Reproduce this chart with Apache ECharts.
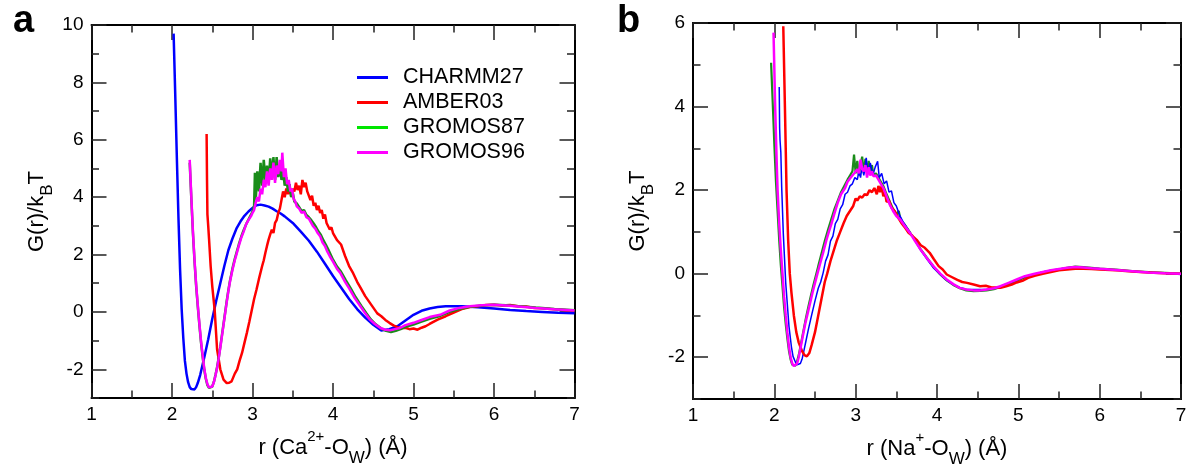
<!DOCTYPE html>
<html>
<head>
<meta charset="utf-8">
<title>G(r)/kBT Ca2+ and Na+</title>
<script src="https://cdn.jsdelivr.net/npm/echarts@6/dist/echarts.min.js"></script>
<style>
  html, body { margin: 0; padding: 0; background: #fff; }
  #main { width: 1188px; height: 468px; }
</style>
</head>
<body>
<div id="main"></div>
<script>
// ---- panel a: Ca2+ - Ow ----
var aCharmmX = [2.02,2.04,2.06,2.08,2.10,2.12,2.14,2.16,2.18,2.20,
  2.22,2.24,2.26,2.28,2.30,2.32,2.35,2.40,2.45,2.50,
  2.55,2.60,2.65,2.70,2.75,2.80,2.85,2.90,2.95,3.00,
  3.05,3.10,3.15,3.20,3.25,3.30,3.35,3.40,3.50,3.60,
  3.70,3.80,3.90,4.00,4.10,4.20,4.30,4.40,4.50,4.60,
  4.70,4.80,4.90,5.00,5.10,5.20,5.30,5.40,5.60,5.80,
  6.00,6.20,6.40,6.60,6.80,7.00];
var aCharmmY = [9.70,7.60,5.40,3.30,1.50,0.10,-0.90,-1.70,-2.15,-2.45,
  -2.62,-2.69,-2.71,-2.70,-2.62,-2.48,-2.20,-1.60,-0.95,-0.25,
  0.40,1.00,1.60,2.15,2.55,2.90,3.15,3.35,3.50,3.62,
  3.72,3.74,3.71,3.67,3.60,3.51,3.43,3.33,3.10,2.80,
  2.48,2.10,1.68,1.25,0.85,0.45,0.10,-0.20,-0.45,-0.65,
  -0.60,-0.50,-0.30,-0.10,0.04,0.12,0.17,0.20,0.20,0.16,
  0.12,0.07,0.03,0.00,-0.03,-0.05];

var aAmberX = [2.43,2.435,2.44,2.45,2.46,2.48,2.50,2.53,2.56,2.60,
  2.64,2.68,2.71,2.74,2.78,2.81,2.84,2.87,2.90,2.93,
  2.96,2.99,3.02,3.05,3.08,3.12,3.14,3.16,3.18,3.20,
  3.22,3.24,3.26,3.28,3.30,3.32,3.34,3.36,3.38,3.40,
  3.42,3.44,3.46,3.48,3.50,3.52,3.54,3.56,3.58,3.60,
  3.62,3.64,3.66,3.68,3.70,3.72,3.74,3.76,3.78,3.80,
  3.82,3.84,3.86,3.88,3.90,3.92,3.94,3.96,3.98,4.00,
  4.05,4.10,4.15,4.20,4.25,4.30,4.35,4.40,4.45,4.50,
  4.55,4.60,4.65,4.70,4.75,4.80,4.85,4.90,4.95,5.00,
  5.05,5.10,5.15,5.20,5.30,5.40,5.50,5.60,5.70,5.80,
  5.90,6.00,6.10,6.20,6.30,6.40,6.50,6.60,6.70,6.80,
  6.90,7.00];
var aAmberY = [6.20,4.60,3.40,3.00,2.55,1.60,0.90,0.07,-1.30,-2.00,
  -2.36,-2.48,-2.47,-2.42,-2.15,-2.00,-1.70,-1.43,-1.08,-0.73,
  -0.35,0.05,0.45,0.78,1.15,1.60,1.80,2.06,2.30,2.52,
  2.70,2.87,2.75,3.10,3.20,3.45,3.60,3.90,4.20,4.00,
  4.30,4.10,4.35,4.05,4.30,4.20,4.50,4.25,4.40,4.10,
  4.60,4.35,4.50,4.20,4.15,3.90,4.05,3.70,3.80,3.55,
  3.70,3.45,3.55,3.25,3.40,3.10,3.15,2.87,2.95,2.75,
  2.50,2.35,1.95,1.60,1.35,1.05,0.80,0.55,0.35,0.15,
  -0.05,-0.15,-0.28,-0.38,-0.47,-0.53,-0.56,-0.55,-0.60,-0.58,
  -0.62,-0.55,-0.50,-0.42,-0.27,-0.15,-0.02,0.10,0.17,0.20,
  0.24,0.25,0.22,0.24,0.20,0.19,0.14,0.13,0.10,0.08,
  0.06,0.05];

var aG87X = [2.22,2.24,2.26,2.28,2.30,2.32,2.34,2.36,2.38,2.40,
  2.42,2.44,2.46,2.48,2.50,2.52,2.54,2.56,2.58,2.60,
  2.62,2.64,2.66,2.68,2.70,2.72,2.75,2.78,2.80,2.83,
  2.86,2.89,2.92,2.95,2.98,3.00,3.02,3.03,3.04,3.06,
  3.08,3.10,3.12,3.14,3.16,3.18,3.20,3.22,3.24,3.26,
  3.28,3.30,3.32,3.34,3.36,3.38,3.40,3.42,3.44,3.46,
  3.48,3.50,3.52,3.55,3.58,3.61,3.64,3.67,3.70,3.73,
  3.76,3.79,3.82,3.85,3.88,3.91,3.94,3.97,4.00,4.05,
  4.10,4.16,4.22,4.28,4.35,4.41,4.47,4.53,4.60,4.66,
  4.72,4.78,4.84,4.90,5.00,5.10,5.20,5.33,5.45,5.57,
  5.70,5.85,6.00,6.15,6.30,6.52,6.75,7.00];
var aG87Y = [5.20,3.95,2.75,1.75,0.90,0.20,-0.45,-1.05,-1.55,-2.00,
  -2.33,-2.55,-2.65,-2.66,-2.60,-2.44,-2.20,-1.93,-1.60,-1.22,
  -0.82,-0.42,-0.02,0.38,0.75,1.08,1.50,1.85,2.05,2.35,
  2.62,2.85,3.05,3.22,3.38,3.50,3.70,4.85,3.90,4.90,
  4.20,5.20,4.40,5.30,4.60,5.10,4.50,5.35,4.70,5.40,
  4.60,5.40,4.70,5.10,4.60,4.90,4.40,4.70,4.20,4.45,
  4.00,4.15,3.85,3.78,3.65,3.52,3.55,3.38,3.30,3.20,
  3.08,2.95,2.80,2.68,2.50,2.35,2.18,2.00,1.82,1.58,
  1.40,1.10,0.82,0.52,0.22,-0.03,-0.26,-0.43,-0.58,-0.66,
  -0.70,-0.66,-0.60,-0.52,-0.44,-0.34,-0.24,-0.14,0.00,0.10,
  0.18,0.22,0.25,0.23,0.20,0.15,0.10,0.06];

var aG96X = [2.22,2.24,2.26,2.28,2.30,2.32,2.34,2.36,2.38,2.40,
  2.42,2.44,2.46,2.48,2.50,2.52,2.54,2.56,2.58,2.60,
  2.62,2.64,2.66,2.68,2.70,2.72,2.75,2.78,2.80,2.83,
  2.86,2.89,2.92,2.95,2.98,3.00,3.02,3.04,3.06,3.08,
  3.10,3.12,3.14,3.16,3.18,3.20,3.22,3.24,3.26,3.28,
  3.30,3.32,3.34,3.36,3.37,3.39,3.41,3.43,3.45,3.47,
  3.49,3.51,3.53,3.55,3.58,3.61,3.64,3.67,3.70,3.72,
  3.75,3.78,3.81,3.84,3.87,3.90,3.93,3.96,4.00,4.05,
  4.09,4.15,4.21,4.27,4.34,4.40,4.46,4.52,4.59,4.65,
  4.71,4.77,4.83,4.90,5.00,5.10,5.20,5.33,5.45,5.57,
  5.70,5.85,6.00,6.15,6.30,6.52,6.75,7.00];
var aG96Y = [5.30,4.00,2.80,1.80,0.95,0.25,-0.40,-1.00,-1.50,-1.95,
  -2.30,-2.52,-2.63,-2.65,-2.60,-2.45,-2.22,-1.95,-1.62,-1.25,
  -0.85,-0.45,-0.05,0.35,0.72,1.05,1.45,1.80,2.00,2.30,
  2.58,2.80,3.05,3.20,3.33,3.45,3.55,3.80,4.00,3.85,
  4.30,4.10,4.60,4.35,4.90,4.40,5.00,4.60,5.20,4.50,
  5.10,4.80,5.30,4.90,5.55,4.70,5.00,4.45,4.60,4.20,
  4.30,3.95,3.85,3.68,3.60,3.45,3.50,3.30,3.25,3.22,
  3.00,2.90,2.75,2.64,2.42,2.30,2.10,1.94,1.75,1.50,
  1.36,1.05,0.78,0.48,0.20,-0.05,-0.27,-0.42,-0.56,-0.62,
  -0.64,-0.60,-0.56,-0.46,-0.38,-0.28,-0.18,-0.10,0.05,0.14,
  0.20,0.23,0.25,0.22,0.19,0.14,0.09,0.05];

// ---- panel b: Na+ - Ow ----
var bCharmmX = [2.06,2.065,2.07,2.08,2.09,2.11,2.14,2.18,2.21,2.23,
  2.26,2.28,2.30,2.32,2.34,2.36,2.39,2.42,2.46,2.50,
  2.54,2.57,2.60,2.63,2.66,2.69,2.72,2.75,2.78,2.81,
  2.84,2.87,2.90,2.93,2.96,2.99,3.02,3.04,3.06,3.08,
  3.10,3.13,3.15,3.18,3.21,3.24,3.27,3.29,3.32,3.35,
  3.38,3.41,3.44,3.47,3.50,3.54,3.58,3.63,3.68,3.74,
  3.80,3.88,3.96,4.04,4.12,4.20,4.28,4.36,4.45,4.53,
  4.61,4.70,4.78,4.88,4.98,5.08,5.20,5.30,5.40,5.50,
  5.60,5.70,5.80,5.90,6.00,6.20,6.40,6.60,6.80,7.00];
var bCharmmY = [4.47,3.50,3.20,2.90,2.10,0.97,-0.22,-1.26,-1.75,-1.98,
  -2.12,-2.18,-2.20,-2.15,-2.05,-1.88,-1.60,-1.32,-0.98,-0.65,
  -0.35,-0.20,0.02,0.30,0.45,0.78,0.90,1.20,1.30,1.55,
  1.65,1.90,1.95,2.10,2.15,2.30,2.25,2.45,2.30,2.60,
  2.35,2.77,2.40,2.65,2.35,2.55,2.69,2.30,2.40,2.15,
  2.22,1.95,1.98,1.70,1.62,1.40,1.25,1.10,0.95,0.76,
  0.56,0.34,0.13,-0.02,-0.16,-0.26,-0.33,-0.37,-0.38,-0.38,
  -0.37,-0.35,-0.30,-0.23,-0.15,-0.07,-0.01,0.04,0.08,0.11,
  0.14,0.16,0.15,0.13,0.12,0.09,0.06,0.03,0.01,-0.02];

var bAmberX = [2.11,2.13,2.15,2.17,2.19,2.21,2.24,2.27,2.30,2.34,
  2.37,2.40,2.43,2.46,2.50,2.54,2.58,2.62,2.65,2.69,
  2.73,2.77,2.81,2.85,2.89,2.93,2.97,3.00,3.02,3.05,
  3.08,3.11,3.14,3.17,3.20,3.23,3.26,3.28,3.30,3.32,
  3.34,3.36,3.38,3.41,3.44,3.48,3.52,3.56,3.60,3.65,
  3.70,3.75,3.80,3.85,3.91,3.96,4.02,4.07,4.12,4.18,
  4.25,4.31,4.37,4.45,4.53,4.60,4.67,4.73,4.78,4.85,
  4.92,4.98,5.05,5.12,5.20,5.30,5.40,5.50,5.60,5.70,
  5.80,5.90,6.00,6.20,6.40,6.60,6.80,7.00];
var bAmberY = [5.92,4.00,2.00,0.80,0.00,-0.45,-1.00,-1.40,-1.65,-1.85,
  -1.95,-1.98,-1.90,-1.70,-1.40,-1.00,-0.60,-0.20,0.00,0.30,
  0.55,0.80,1.00,1.20,1.38,1.50,1.62,1.80,1.75,1.85,
  1.82,1.90,1.88,2.00,1.95,2.05,1.90,2.10,1.95,2.10,
  1.85,1.95,1.72,1.75,1.58,1.50,1.35,1.22,1.12,0.98,
  0.90,0.81,0.68,0.62,0.50,0.35,0.18,0.10,-0.02,-0.08,
  -0.15,-0.20,-0.22,-0.26,-0.30,-0.29,-0.33,-0.33,-0.34,-0.30,
  -0.26,-0.21,-0.17,-0.10,-0.05,0.00,0.04,0.08,0.10,0.12,
  0.12,0.11,0.10,0.08,0.05,0.03,0.01,0.00];

var bG87X = [1.96,1.98,2.00,2.02,2.04,2.06,2.08,2.10,2.12,2.14,
  2.16,2.18,2.20,2.22,2.24,2.26,2.28,2.30,2.33,2.36,
  2.39,2.42,2.45,2.48,2.51,2.54,2.58,2.62,2.66,2.70,
  2.74,2.78,2.82,2.86,2.90,2.93,2.96,2.98,3.00,3.02,
  3.04,3.06,3.08,3.10,3.12,3.14,3.16,3.18,3.20,3.22,
  3.25,3.28,3.31,3.34,3.38,3.42,3.46,3.50,3.53,3.55,
  3.60,3.67,3.73,3.80,3.88,3.96,4.04,4.12,4.20,4.28,
  4.36,4.45,4.53,4.61,4.70,4.78,4.88,4.98,5.08,5.20,
  5.30,5.40,5.50,5.60,5.70,5.80,5.90,6.00,6.20,6.40,
  6.60,6.80,7.00];
var bG87Y = [5.05,4.10,3.10,2.20,1.50,0.80,0.20,-0.30,-0.80,-1.20,
  -1.55,-1.85,-2.05,-2.18,-2.22,-2.20,-2.10,-1.95,-1.65,-1.35,
  -1.05,-0.78,-0.52,-0.28,-0.05,0.18,0.48,0.78,1.05,1.30,
  1.55,1.75,1.95,2.10,2.25,2.35,2.45,2.85,2.40,2.70,
  2.35,2.60,2.80,2.40,2.75,2.45,2.70,2.40,2.60,2.35,
  2.40,2.30,2.20,2.10,1.90,1.72,1.55,1.42,1.50,1.30,
  1.18,0.98,0.80,0.58,0.37,0.16,-0.02,-0.16,-0.27,-0.35,
  -0.40,-0.42,-0.41,-0.40,-0.37,-0.32,-0.25,-0.17,-0.09,-0.02,
  0.03,0.07,0.10,0.14,0.17,0.16,0.14,0.12,0.10,0.06,
  0.04,0.02,0.00];

var bG96X = [1.99,2.00,2.01,2.02,2.03,2.04,2.06,2.08,2.10,2.12,
  2.14,2.16,2.18,2.20,2.22,2.24,2.26,2.28,2.30,2.32,
  2.35,2.38,2.41,2.44,2.47,2.50,2.53,2.56,2.60,2.64,
  2.67,2.70,2.74,2.78,2.82,2.87,2.90,2.93,2.96,2.99,
  3.02,3.04,3.06,3.08,3.10,3.12,3.14,3.16,3.18,3.20,
  3.22,3.25,3.28,3.31,3.34,3.38,3.42,3.46,3.50,3.55,
  3.60,3.67,3.73,3.80,3.88,3.96,4.04,4.12,4.20,4.28,
  4.36,4.45,4.53,4.61,4.70,4.78,4.88,4.98,5.08,5.20,
  5.30,5.40,5.50,5.60,5.70,5.80,5.90,6.00,6.20,6.40,
  6.60,6.80,7.00];
var bG96Y = [5.77,4.90,4.00,3.30,2.60,2.00,1.20,0.55,0.00,-0.55,
  -1.00,-1.40,-1.75,-2.00,-2.15,-2.21,-2.22,-2.15,-2.00,-1.80,
  -1.50,-1.20,-0.95,-0.70,-0.45,-0.22,0.00,0.22,0.50,0.80,
  1.00,1.18,1.45,1.70,1.90,2.05,2.20,2.28,2.35,2.42,
  2.50,2.40,2.73,2.50,2.45,2.60,2.30,2.55,2.35,2.45,
  2.33,2.35,2.25,2.15,2.05,1.85,1.65,1.50,1.38,1.29,
  1.15,0.97,0.78,0.57,0.36,0.17,0.00,-0.14,-0.25,-0.34,
  -0.38,-0.40,-0.40,-0.38,-0.35,-0.30,-0.22,-0.14,-0.06,0.00,
  0.04,0.08,0.11,0.14,0.16,0.15,0.13,0.12,0.09,0.06,
  0.03,0.01,0.00];

var names = ['CHARMM27', 'AMBER03', 'GROMOS87', 'GROMOS96'];
var aYMajor = [-2, 0, 2, 4, 6, 8, 10];
var aYMinor = [-3, -1, 1, 3, 5, 7, 9];
var bYMajor = [-2, 0, 2, 4, 6];
var bYMinor = [-3, -1, 1, 3, 5];

var font = '"Liberation Sans", Arial, Helvetica, sans-serif';

function pairs(xs, ys) {
  return xs.map(function (x, i) { return [x, ys[i]]; });
}

// axis titles: main text with super/subscripts
var richName = {
  n: { fontSize: 22, fontFamily: font, color: '#000', lineHeight: 38, verticalAlign: 'middle' },
  sup: { fontSize: 15, fontFamily: font, color: '#000', lineHeight: 16, verticalAlign: 'top' },
  sub: { fontSize: 17, fontFamily: font, color: '#000', lineHeight: 24, verticalAlign: 'bottom' }
};

function xAxes(grid, name) {
  var base = {
    type: 'value', gridIndex: grid, min: 1, max: 7, interval: 1,
    axisLine: { onZero: false, lineStyle: { color: '#000', width: 2 } },
    axisTick: { inside: true, length: 15, lineStyle: { color: '#222', width: 1.5 } },
    minorTick: { show: true, splitNumber: 2, length: 7.5, lineStyle: { color: '#222', width: 1.5 } },
    splitLine: { show: false },
    minorSplitLine: { show: false }
  };
  var bottom = Object.assign({}, base, {
    position: 'bottom',
    axisLabel: { fontSize: 19, fontFamily: font, color: '#000', margin: 7 },
    name: name, nameLocation: 'middle', nameGap: 31,
    nameTextStyle: { rich: richName }
  });
  var top = Object.assign({}, base, { position: 'top', axisLabel: { show: false } });
  return [bottom, top];
}

function yAxes(grid, min, max, major, minor) {
  var list = [];
  ['left', 'right'].forEach(function (pos) {
    list.push({
      type: 'value', gridIndex: grid, position: pos, min: min, max: max, interval: 1,
      axisLine: { onZero: false, lineStyle: { color: '#000', width: 2 } },
      axisTick: { inside: true, length: 15, customValues: major, lineStyle: { color: '#222', width: 1.5 } },
      axisLabel: pos === 'left'
        ? { fontSize: 19, fontFamily: font, color: '#000', margin: 8, customValues: major }
        : { show: false },
      splitLine: { show: false },
      name: pos === 'left' ? '{n|G(r)/k}{sub|B}{n|T}' : '',
      nameLocation: 'middle', nameGap: 36,
      nameTextStyle: { rich: richName }
    });
    list.push({
      type: 'value', gridIndex: grid, position: pos, min: min, max: max, interval: 1,
      axisLine: { show: false, onZero: false },
      axisTick: { inside: true, length: 7.5, customValues: minor, lineStyle: { color: '#222', width: 1.5 } },
      axisLabel: { show: false },
      splitLine: { show: false }
    });
  });
  return list;
}

var colors = { CHARMM27: '#0000ff', AMBER03: '#ff0000', GROMOS87: '#1a8c1a', GROMOS96: '#ff00ff' };

function line(name, xs, ys, xi, yi, width) {
  return {
    name: name, type: 'line', xAxisIndex: xi, yAxisIndex: yi,
    data: pairs(xs, ys), showSymbol: false, symbol: 'none', smooth: false,
    lineStyle: { color: colors[name], width: width }, itemStyle: { color: colors[name] },
    z: 2
  };
}

var chart = echarts.init(document.getElementById('main'), null, { renderer: 'canvas' });
chart.setOption({
  animation: false,
  backgroundColor: '#fff',
  title: [
    { text: 'a', left: 8, top: -2, textStyle: { fontSize: 38, fontWeight: 'bold', fontFamily: font, color: '#000' } },
    { text: 'b', left: 612, top: -2, textStyle: { fontSize: 38, fontWeight: 'bold', fontFamily: font, color: '#000' } }
  ],
  grid: [
    { left: 91.5, top: 25, width: 483, height: 373, outerBoundsMode: 'none' },
    { left: 693, top: 23, width: 488, height: 376, outerBoundsMode: 'none' }
  ],
  legend: {
    orient: 'vertical', left: 352, top: 60, itemGap: 0,
    itemWidth: 31, itemHeight: 3, icon: 'rect',
    textStyle: { fontSize: 21.5, fontFamily: font, color: '#000', lineHeight: 25, padding: [0, 0, 0, 10] },
    data: [
      { name: 'CHARMM27', itemStyle: { color: '#0000ff' } },
      { name: 'AMBER03', itemStyle: { color: '#ff0000' } },
      { name: 'GROMOS87', itemStyle: { color: '#00e600' } },
      { name: 'GROMOS96', itemStyle: { color: '#ff00ff' } }
    ]
  },
  xAxis: xAxes(0, '{n|r (Ca}{sup|2+}{n|-O}{sub|W}{n|) (Å)}')
    .concat(xAxes(1, '{n|r (Na}{sup|+}{n|-O}{sub|W}{n|) (Å)}')),
  yAxis: yAxes(0, -3, 10, aYMajor, aYMinor).concat(yAxes(1, -3, 6, bYMajor, bYMinor)),
  series: [
    line('CHARMM27', aCharmmX, aCharmmY, 0, 0, 2.5),
    line('AMBER03', aAmberX, aAmberY, 0, 0, 2.5),
    line('GROMOS87', aG87X, aG87Y, 0, 0, 2.5),
    line('GROMOS96', aG96X, aG96Y, 0, 0, 2.5),
    line('GROMOS87', bG87X, bG87Y, 2, 4, 2.2),
    line('CHARMM27', bCharmmX, bCharmmY, 2, 4, 1.5),
    line('AMBER03', bAmberX, bAmberY, 2, 4, 2.5),
    line('GROMOS96', bG96X, bG96Y, 2, 4, 2.5)
  ]
});
</script>
</body>
</html>
